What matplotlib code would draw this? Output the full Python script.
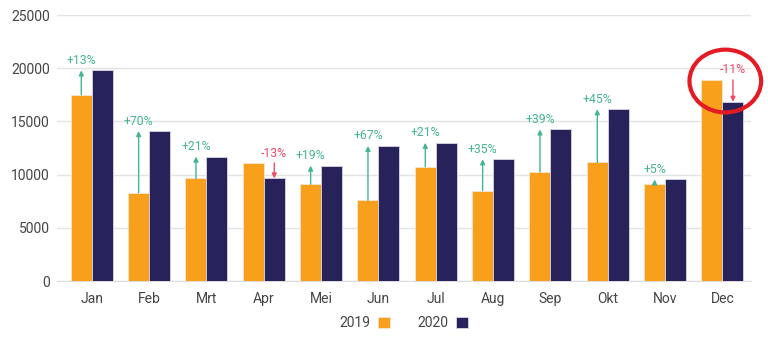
import matplotlib.pyplot as plt
from matplotlib.patches import Ellipse

months = ['Jan', 'Feb', 'Mrt', 'Apr', 'Mei', 'Jun', 'Jul', 'Aug', 'Sep', 'Okt', 'Nov', 'Dec']
sales2019 = [17500, 8300, 9650, 11100, 9100, 7600, 10750, 8500, 10250, 11150, 9100, 18900]
sales2020 = [19800, 14100, 11700, 9650, 10850, 12700, 13000, 11450, 14250, 16150, 9550, 16850]

ORANGE = '#F8A01C'
NAVY = '#28225A'
GREEN = '#45B58C'
RED = '#EE4A6A'

plt.rcParams['font.family'] = ['Roboto', 'DejaVu Sans']

fig = plt.figure(figsize=(7.68, 3.42), dpi=100)
ax = fig.add_axes([0.074, 0.178, 0.904, 0.778])

x = list(range(len(months)))
w = 0.366
ax.bar([i - w / 2 for i in x], sales2019, w, color=ORANGE, edgecolor='#f3e6d0', linewidth=0.6, label='2019', zorder=3)
ax.bar([i + w / 2 for i in x], sales2020, w, color=NAVY, edgecolor='#d8d6e6', linewidth=0.6, label='2020', zorder=3)

# percentage change arrows
for i, (a, b) in enumerate(zip(sales2019, sales2020)):
    pct = round((b - a) / a * 100)
    if b >= a:
        col, xp, top = GREEN, i - w / 2, b
        label = '+%d%%' % pct
    else:
        col, xp, top = RED, i + w / 2, a
        label = '%d%%' % pct
    ax.annotate('', xy=(xp, b), xytext=(xp, a),
                arrowprops=dict(arrowstyle='-|>', color=col, lw=1, mutation_scale=7,
                                shrinkA=0, shrinkB=0), zorder=4)
    ax.annotate(label, xy=(xp, top), xytext=(0, 2.5), textcoords='offset points',
                ha='center', va='bottom', fontsize=8.8, color=col, zorder=4)

# highlight circle around December
circ = Ellipse((11.05, 18800), 1.25, 5900, fill=False, edgecolor='#E31B23', lw=3,
               clip_on=False, zorder=5)
ax.add_patch(circ)

ax.set_xlim(-0.61, 11.5)
ax.set_ylim(0, 25000)
ax.set_yticks(range(0, 25001, 5000))
ax.set_xticks(x)
ax.set_xticklabels(months)
ax.grid(axis='y', color='#e3e3e3', lw=1, zorder=0)
ax.set_axisbelow(True)
for s in ['top', 'right', 'left']:
    ax.spines[s].set_visible(False)
ax.spines['bottom'].set_color('#dcdcdc')
ax.tick_params(axis='both', length=0, labelsize=10, colors='#444444')
ax.tick_params(axis='x', pad=8)
ax.tick_params(axis='y', pad=5)

ax.legend(loc='center', bbox_to_anchor=(0.5, -0.158), ncol=2, frameon=False,
          markerfirst=False, handlelength=0.85, handleheight=0.85,
          handletextpad=0.55, columnspacing=2.0, fontsize=10, labelcolor='#444444')

fig.savefig('out.png', dpi=100)
